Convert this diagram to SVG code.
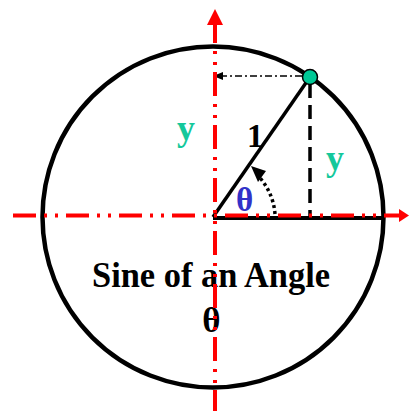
<svg xmlns="http://www.w3.org/2000/svg" width="409" height="411" viewBox="0 0 409 411">
<style>
.t{font-family:"Liberation Serif","Times New Roman",serif;font-weight:bold}
.teal{fill:#14c89b}
.axis{stroke:#ff0000;stroke-width:4;fill:none}
.blk{stroke:#000;fill:none}
</style>
<defs>
<marker id="ah" markerWidth="10" markerHeight="10" refX="9" refY="5" orient="auto" markerUnits="userSpaceOnUse">
<path d="M0,1 L10,5 L0,9 Z" fill="#000"/>
</marker>
</defs>
<g id="labels">
<text id="y1" class="t teal" x="177" y="140" font-size="36">y</text>
<text id="y2" class="t teal" x="326" y="170" font-size="36">y</text>
<text id="one" class="t" x="247" y="147" font-size="33">1</text>
<text id="theta1" class="t" x="236" y="211" fill="#3232c8" font-size="33">θ</text>
<text id="title" class="t" x="211" y="287" text-anchor="middle" font-size="36" textLength="238" lengthAdjust="spacingAndGlyphs">Sine of an Angle</text>
<text id="theta2" class="t" x="211.5" y="332" text-anchor="middle" font-size="35">θ</text>
</g>
<g id="circle">
<circle cx="213" cy="217" r="170.5" class="blk" stroke-width="4.5"/>
</g>
<g id="connectors">
<line x1="213" y1="218" x2="384" y2="218" class="blk" stroke-width="4"/>
<line x1="213" y1="217" x2="310" y2="77" class="blk" stroke-width="3.5"/>
<line x1="310" y1="84" x2="310" y2="218" class="blk" stroke-width="3.5" stroke-dasharray="14,7"/>
<line x1="302" y1="76" x2="214" y2="76" class="blk" stroke-width="1.5" stroke-dasharray="7,3,2,3" marker-end="url(#ah)"/>
<path d="M275,214 A62,62 0 0 0 260,178" class="blk" stroke-width="3.5" stroke-dasharray="3,3"/>
<path d="M251,166 L266,171 L258,182 Z" fill="#000"/>
</g>
<g id="point">
<circle cx="310" cy="77" r="7.5" fill="#00c896" stroke="#000" stroke-width="1.5"/>
</g>
<g id="axes">
<path d="M215,19 V411" class="axis" stroke-dasharray="24,8,3,8,3,7"/>
<path d="M215,9 L223,25 L207,25 Z" fill="#ff0000"/>
<path d="M13,215.5 H400" class="axis" stroke-dasharray="23,8,3,8,3,8"/>
<path d="M409,215.5 L399,209 L399,222 Z" fill="#ff0000"/>
</g>
</svg>
